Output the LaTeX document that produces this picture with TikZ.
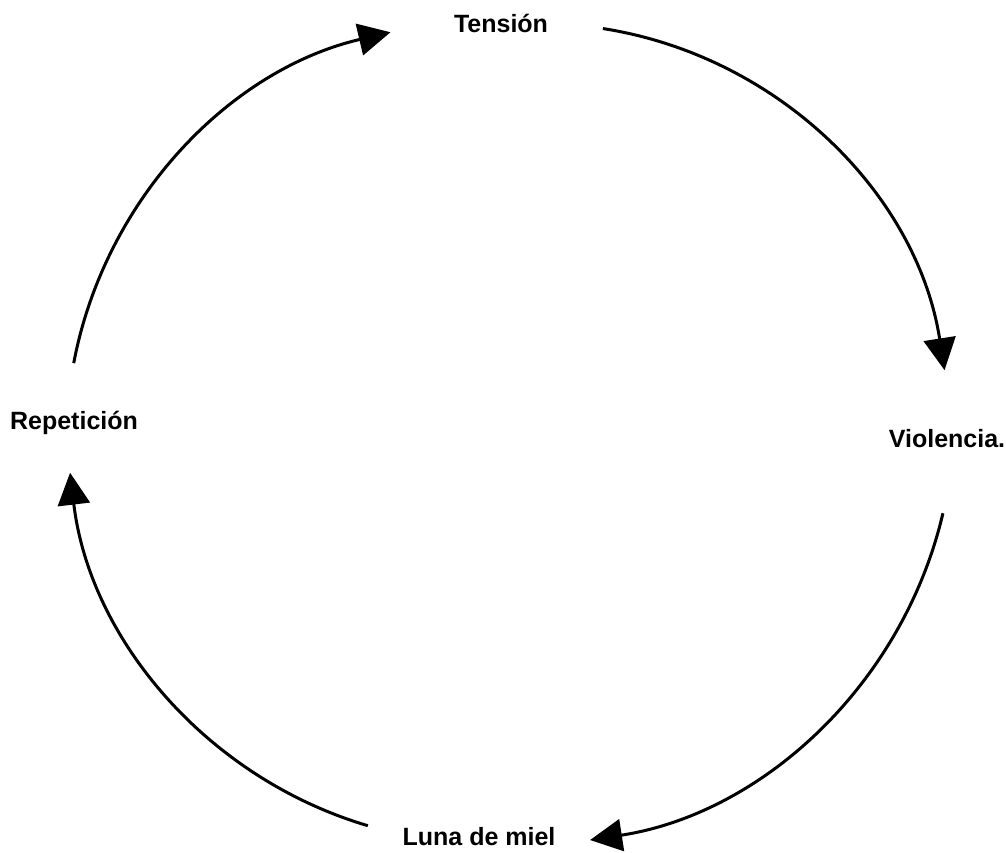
\documentclass[tikz,border=0pt]{standalone}
\usepackage{fontspec}
\setmainfont{Liberation Sans}
\usetikzlibrary{arrows.meta,calc}
\begin{document}
\begin{tikzpicture}[x=1pt,y=1pt,
  cyc/.style={line width=3pt,-{Triangle[length=32pt,width=32pt]}},
  lbl/.style={font=\fontsize{25}{29}\selectfont\bfseries,anchor=base,inner sep=0pt}]
\useasboundingbox (0,0) rectangle (1006,-852);
\node[lbl] (ten) at (501,-32) {Tensión};
\node[lbl] (vio) at (947,-447) {Violencia.};
\node[lbl] (rep) at (74,-429) {Repetición};
\node[lbl] (luna) at (479,-845) {Luna de miel};
% arc centres
\coordinate (c1) at (539.5,-433.6);
\coordinate (c2) at (524.3,-415.1);
\coordinate (c3) at (487.1,-423.0);
\coordinate (c4) at (486.4,-441.1);
\coordinate (s1) at ($(c1)+(81.1:410pt)$);
\coordinate (s2) at ($(c2)+(-13.2:430pt)$);
\coordinate (s3) at ($(c3)+(-106.5:420pt)$);
\coordinate (s4) at ($(c4)+(169.3:420pt)$);
\draw[cyc] (s1) arc[start angle=81.1,end angle=8.9,radius=410pt];
\draw[cyc] (s2) arc[start angle=-13.2,end angle=-81.2,radius=430pt];
\draw[cyc] (s3) arc[start angle=-106.5,end angle=-173.2,radius=420pt];
\draw[cyc] (s4) arc[start angle=169.3,end angle=103.2,radius=420pt];
\end{tikzpicture}
\end{document}
